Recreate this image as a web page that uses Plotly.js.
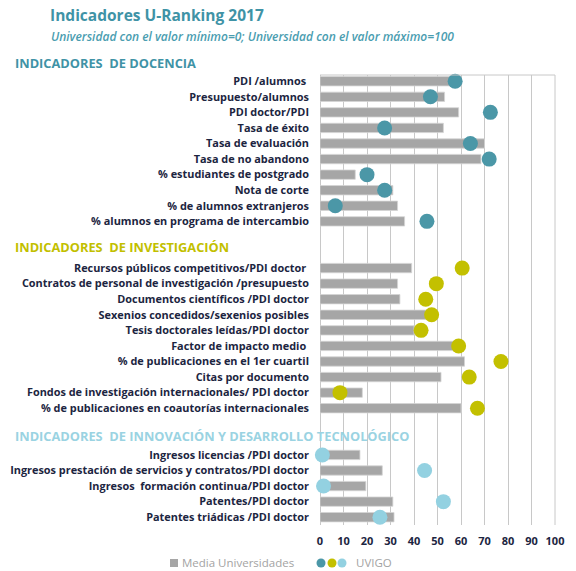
<!DOCTYPE html>
<html>
<head>
<meta charset="utf-8">
<script src="https://cdn.plot.ly/plotly-3.0.1.min.js"></script>
<style>html,body{margin:0;padding:0;background:#fff;}#chart{width:576px;height:571px;}</style>
</head>
<body>
<div id="chart"></div>
<script>
// ---- Data ----
const docenciaLabels = ["PDI /alumnos\u00a0", "Presupuesto/alumnos", "PDI doctor/PDI", "Tasa de éxito", "Tasa de evaluación", "Tasa de no abandono", "% estudiantes de postgrado", "Nota de corte", "% de alumnos extranjeros", "% alumnos en programa de intercambio"];
const docenciaMedia = [56, 53, 59, 52.5, 70, 68.5, 15, 31, 33, 36];
const docenciaUvigo = [57.5, 47, 72.5, 27.5, 64, 72, 20, 27.5, 6.5, 45.5];

const investigacionLabels = ["Recursos públicos competitivos/PDI doctor\u00a0", "Contratos de personal de investigación /presupuesto", "Documentos científicos /PDI doctor", "Sexenios concedidos/sexenios posibles", "Tesis doctorales leídas/PDI doctor", "Factor de impacto medio\u00a0", "% de publicaciones en el 1er cuartil", "Citas por documento", "Fondos de investigación internacionales/ PDI doctor", "% de publicaciones en coautorías internacionales"];
const investigacionMedia = [39, 33, 34, 45, 40, 58, 61.5, 51.5, 18, 60];
const investigacionUvigo = [60.5, 49.5, 45, 47.5, 43, 59, 77, 63.5, 8.5, 67];

const innovacionLabels = ["Ingresos licencias /PDI doctor", "Ingresos prestación de servicios y contratos/PDI doctor", "Ingresos  formación continua/PDI doctor", "Patentes/PDI doctor", "Patentes triádicas /PDI doctor"];
const innovacionMedia = [17, 26.5, 19.5, 31, 31.5];
const innovacionUvigo = [1, 44.5, 1.5, 52.5, 25.5];

const sectionTitles = ["INDICADORES  DE DOCENCIA", "INDICADORES  DE INVESTIGACIÓN", "INDICADORES  DE INNOVACIÓN Y DESARROLLO TECNOLÓGICO"];
const xTicks = [0, 10, 20, 30, 40, 50, 60, 70, 80, 90, 100];

// ---- Layout helpers ----
const colors = ["#4b97a7", "#c3c000", "#93d1e1"];
const titleColors = ["#3f93a6", "#c2bf00", "#9ad3e2"];
const navy = "#1c2541";
const FONT = "Open Sans, sans-serif";

const sections = [
  {labels: docenciaLabels, media: docenciaMedia, uvigo: docenciaUvigo},
  {labels: investigacionLabels, media: investigacionMedia, uvigo: investigacionUvigo},
  {labels: innovacionLabels, media: innovacionMedia, uvigo: innovacionUvigo}
];
const starts = [0, 12, 24];

let allPos = [], allLabels = [], allMedia = [];
const dotTraces = [];
sections.forEach((s, i) => {
  const pos = s.labels.map((_, j) => starts[i] + j);
  allPos = allPos.concat(pos);
  allLabels = allLabels.concat(s.labels);
  allMedia = allMedia.concat(s.media);
  dotTraces.push({
    type: "scatter", mode: "markers", x: s.uvigo, y: pos,
    marker: {color: colors[i], size: 15, line: {width: 0}},
    showlegend: false, hoverinfo: "x", cliponaxis: false
  });
});

const barTrace = {
  type: "bar", orientation: "h", x: allMedia, y: allPos, width: 0.6,
  marker: {color: "#a6a6a6", line: {color: "#d4d4d4", width: 0.8}},
  showlegend: false, hoverinfo: "x"
};

const px = x => (x - 320) / 235;
const py = y => (525 - y) / 450;

const annotations = [
  {text: "Universidad con el valor mínimo=0; Universidad con el valor máximo=100", xref: "paper", yref: "paper", x: px(49), y: py(37), xanchor: "left", yanchor: "middle", showarrow: false, font: {family: FONT, size: 12, color: "#4a9db0", style: "italic", weight: 600}},
  {text: "Media Universidades", xref: "paper", yref: "paper", x: px(180), y: py(562), xanchor: "left", yanchor: "middle", showarrow: false, font: {family: FONT, size: 11.5, color: "#a3a3a3"}},
  {text: "UVIGO", xref: "paper", yref: "paper", x: px(354), y: py(562), xanchor: "left", yanchor: "middle", showarrow: false, font: {family: FONT, size: 11.5, color: "#a3a3a3"}}
];
const headerY = [63, 247, 436];
sectionTitles.forEach((t, i) => {
  annotations.push({text: t, xref: "paper", yref: "paper", x: px(13), y: py(headerY[i]), xanchor: "left", yanchor: "middle", showarrow: false, font: {family: FONT, size: 12.8, color: titleColors[i], weight: 700}});
});

const legendDotsX = [321, 332, 342];
const shapes = [
  {type: "line", xref: "paper", yref: "paper", x0: 0, x1: 1, y0: 1, y1: 1, line: {color: "#c8c8c8", width: 1}},
  {type: "line", xref: "paper", yref: "paper", x0: 1, x1: 1, y0: 0, y1: 1, line: {color: "#c8c8c8", width: 1}},
  {type: "rect", xref: "paper", yref: "paper", xsizemode: "pixel", ysizemode: "pixel", xanchor: px(174), yanchor: py(563), x0: -4, x1: 4, y0: -4, y1: 4, fillcolor: "#a6a6a6", line: {width: 0}}
];
legendDotsX.forEach((x, i) => {
  shapes.push({type: "circle", xref: "paper", yref: "paper", xsizemode: "pixel", ysizemode: "pixel", xanchor: px(x), yanchor: py(563), x0: -4.5, x1: 4.5, y0: -4.5, y1: 4.5, fillcolor: colors[i], line: {width: 0}});
});

const layout = {
  width: 576, height: 571,
  margin: {l: 320, r: 21, t: 75, b: 46, pad: 0},
  paper_bgcolor: "#ffffff", plot_bgcolor: "#ffffff",
  title: {text: "Indicadores U-Ranking 2017", x: 50 / 576, xanchor: "left", xref: "container", y: 1 - 16 / 571, yanchor: "middle", yref: "container", font: {family: FONT, size: 15.5, color: "#3f93a6", weight: 700}},
  bargap: 0.4,
  xaxis: {range: [0, 100], tickvals: xTicks, ticktext: xTicks.map(String), showgrid: true, gridcolor: "#c8c8c8", gridwidth: 1, zeroline: true, zerolinecolor: "#c8c8c8", zerolinewidth: 1, showline: false, ticks: "", tickfont: {family: FONT, size: 11, color: navy, weight: 700}, ticklabelstandoff: 8, fixedrange: true},
  yaxis: {range: [28.5, -0.4], tickvals: allPos, ticktext: allLabels, showgrid: false, zeroline: false, showline: false, ticks: "", tickfont: {family: FONT, size: 10.9, color: navy, weight: 700}, ticklabelstandoff: 10, fixedrange: true},
  annotations: annotations,
  shapes: shapes,
  showlegend: false
};

Plotly.newPlot("chart", [barTrace].concat(dotTraces), layout, {displayModeBar: false, staticPlot: true});
</script>
</body>
</html>
